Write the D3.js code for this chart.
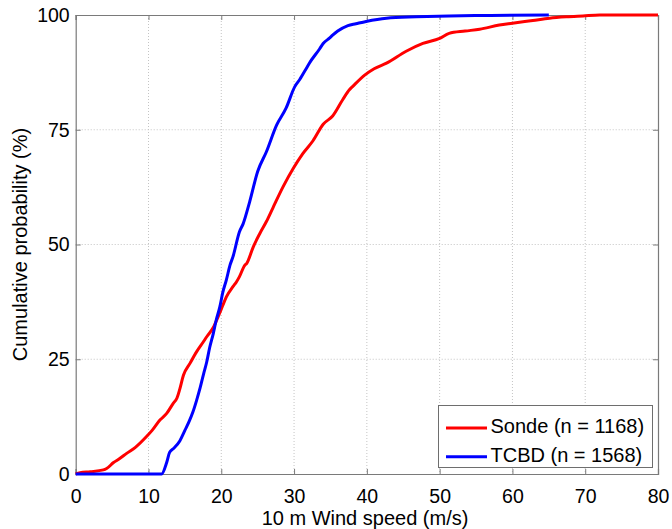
<!DOCTYPE html>
<html>
<head>
<meta charset="utf-8">
<script src="https://cdn.jsdelivr.net/npm/d3@7"></script>
<style>
  html, body { margin: 0; padding: 0; background: #fff; }
  svg { display: block; font-family: "Liberation Sans", Arial, Helvetica, sans-serif; }
</style>
</head>
<body>
<svg id="chart" width="672" height="529"></svg>
<script>
// ---- data ----
const sondeSpeed = [0, 0.6, 2, 3.8, 4.25, 5.2, 6, 7.0, 8.2, 9.7, 10.5, 11.6, 12.5, 13.4, 13.9, 14.3, 14.8, 15.7, 16.6, 17.5, 18.0, 18.9, 19.6, 20.2, 20.7, 21.6, 22.1, 22.5, 23.2, 23.5, 24.4, 25.3, 26.2, 27.1, 28.5, 29.9, 31.2, 32.6, 34.0, 35.3, 36.7, 37.6, 38.1, 39.7, 41.0, 42.7, 45.4, 47.7, 50.0, 51.3, 53.5, 55.5, 58.2, 60.0, 62.8, 65.1, 67.4, 69.7, 72, 80];
const sondeCum   = [0, 0.3, 0.5, 0.9, 1.2, 2.5, 3.3, 4.5, 5.8, 8.1, 9.5, 11.8, 13.2, 15.4, 16.5, 18.5, 21.5, 24.1, 26.6, 28.7, 29.9, 31.9, 34.4, 36.7, 38.6, 40.8, 41.9, 43.0, 45.4, 45.9, 49.5, 52.4, 55.0, 58.0, 62.6, 66.6, 69.8, 72.6, 76.2, 78.0, 81.6, 83.7, 84.5, 86.9, 88.3, 89.5, 92.1, 93.8, 94.9, 96.0, 96.5, 96.9, 97.8, 98.2, 98.8, 99.3, 99.6, 99.8, 100, 100];
const tcbdSpeed  = [0, 11.8, 12.5, 12.9, 13.4, 14.3, 15.0, 15.6, 16.1, 16.6, 17.1, 17.6, 18.0, 18.4, 18.9, 19.3, 19.8, 20.2, 20.7, 21.2, 21.6, 22.5, 23.0, 23.9, 25.0, 26.2, 27.6, 28.9, 30.1, 30.8, 31.7, 32.1, 33.5, 34.0, 34.9, 35.3, 36.0, 37.4, 38.5, 39.9, 42.7, 46.8, 51.3, 57, 65];
const tcbdCum    = [0, 0, 2.5, 4.7, 5.5, 7.2, 9.5, 11.5, 13.5, 16.0, 18.8, 22.0, 24.4, 27.5, 30.6, 33.5, 36.4, 39.5, 42.3, 45.5, 47.3, 52.8, 54.5, 59.3, 65.9, 70.2, 76.0, 79.7, 84.4, 86.0, 88.4, 89.5, 92.6, 93.8, 95.0, 95.6, 96.5, 97.7, 98.1, 98.6, 99.3, 99.6, 99.8, 99.9, 100];
const seriesNames = ["Sonde (n = 1168)", "TCBD (n = 1568)"];
const seriesColors = ["#ff0000", "#0000ff"];
const xTicks = [0, 10, 20, 30, 40, 50, 60, 70, 80];
const yTicks = [0, 25, 50, 75, 100];
const xLabel = "10 m Wind speed (m/s)";
const yLabel = "Cumulative probability (%)";

// ---- layout ----
const L = 75.7, R = 658, T = 15, B = 474;
const svg = d3.select("#chart");
const x = d3.scaleLinear().domain([0, 80]).range([L, R]);
const y = d3.scaleLinear().domain([0, 100]).range([B, T]);
const axisColor = "#7a7a7a";
const tickFont = 19.5, labelFont = 20;

// grid
const grid = svg.append("g");
grid.selectAll("line.gx").data(xTicks.slice(1, -1)).enter().append("line")
  .attr("x1", d => x(d)).attr("x2", d => x(d)).attr("y1", T).attr("y2", B)
  .attr("stroke", "#c4c4c4").attr("stroke-width", 1).attr("stroke-dasharray", "1,2");
grid.selectAll("line.gy").data(yTicks.slice(1, -1)).enter().append("line")
  .attr("x1", L).attr("x2", R).attr("y1", d => y(d)).attr("y2", d => y(d))
  .attr("stroke", "#c4c4c4").attr("stroke-width", 1).attr("stroke-dasharray", "1,2");

// axes (ticks inside, all four sides)
const tickLen = 5;
const axB = svg.append("g").attr("transform", `translate(0,${B})`)
  .call(d3.axisBottom(x).tickValues(xTicks).tickSize(-tickLen).tickPadding(15).tickFormat(d3.format("d")));
const axT = svg.append("g").attr("transform", `translate(0,${T})`)
  .call(d3.axisTop(x).tickValues(xTicks).tickSize(-tickLen).tickFormat(""));
const axL = svg.append("g").attr("transform", `translate(${L},0)`)
  .call(d3.axisLeft(y).tickValues(yTicks).tickSize(-tickLen).tickPadding(6).tickFormat(d3.format("d")));
const axR = svg.append("g").attr("transform", `translate(${R},0)`)
  .call(d3.axisRight(y).tickValues(yTicks).tickSize(-tickLen).tickFormat(""));
[axB, axT, axL, axR].forEach(a => {
  a.select(".domain").attr("stroke", axisColor).attr("stroke-width", 1.2);
  a.selectAll(".tick line").attr("stroke", axisColor);
  a.selectAll(".tick text").attr("fill", "#000").attr("font-size", tickFont)
    .attr("font-family", "Liberation Sans, Arial, sans-serif");
});

// lines
const line = d3.line().x(d => x(d[0])).y(d => y(d[1])).curve(d3.curveMonotoneX);
const sondeData = d3.zip(sondeSpeed, sondeCum);
const tcbdData = d3.zip(tcbdSpeed, tcbdCum);
svg.append("path").datum(sondeData).attr("d", line)
  .attr("fill", "none").attr("stroke", seriesColors[0]).attr("stroke-width", 3).attr("stroke-linejoin", "round");
svg.append("path").datum(tcbdData).attr("d", line)
  .attr("fill", "none").attr("stroke", seriesColors[1]).attr("stroke-width", 3).attr("stroke-linejoin", "round");

// axis labels
svg.append("text").attr("x", 365).attr("y", 525).attr("text-anchor", "middle")
  .attr("font-size", labelFont).attr("fill", "#000").text(xLabel);
svg.append("text").attr("transform", `translate(27,${(T + B) / 2}) rotate(-90)`).attr("text-anchor", "middle")
  .attr("font-size", labelFont).attr("fill", "#000").text(yLabel);

// legend
const lg = svg.append("g");
lg.append("rect").attr("x", 438.5).attr("y", 405.5).attr("width", 214).attr("height", 62)
  .attr("fill", "#fff").attr("stroke", "#6e6e6e").attr("stroke-width", 1);
seriesNames.forEach((name, i) => {
  const yy = 428 + i * 28.7;
  lg.append("line").attr("x1", 446).attr("x2", 487).attr("y1", yy).attr("y2", yy)
    .attr("stroke", seriesColors[i]).attr("stroke-width", 3);
  lg.append("text").attr("x", 490.5).attr("y", yy + 5).attr("font-size", labelFont)
    .attr("fill", "#000").text(name);
});
</script>
</body>
</html>
